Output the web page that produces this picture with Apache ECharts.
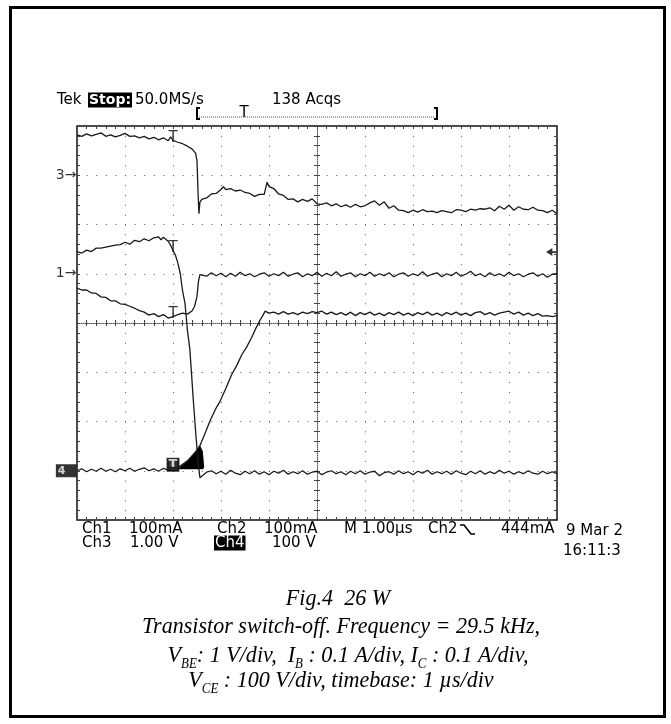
<!DOCTYPE html>
<html>
<head>
<meta charset="utf-8">
<script src="https://cdn.jsdelivr.net/npm/echarts@6.0.0/dist/echarts.min.js"></script>
<style>
html, body { margin: 0; padding: 0; background: #fff; }
#main { width: 671px; height: 724px; }
</style>
</head>
<body>
<div id="main"></div>
<script>
// scope traces, [time in µs (1 µs/div), position in divisions from screen centre]
var ch3 = [[0,3.82],[0.1,3.79],[0.2,3.84],[0.3,3.80],[0.4,3.83],[0.5,3.86],[0.6,3.79],[0.7,3.82],[0.8,3.78],[0.9,3.81],
  [1.0,3.85],[1.1,3.79],[1.2,3.80],[1.3,3.76],[1.4,3.79],[1.5,3.74],[1.6,3.77],[1.7,3.72],[1.8,3.76],[1.9,3.70],
  [1.95,3.78],[2.0,3.71],[2.1,3.67],[2.2,3.64],[2.3,3.59],[2.4,3.53],[2.47,3.45],[2.5,3.30],[2.52,2.70],[2.54,2.22],
  [2.56,2.45],[2.6,2.51],[2.7,2.54],[2.8,2.62],[2.9,2.63],[3.0,2.71],[3.05,2.77],[3.1,2.71],[3.2,2.73],[3.3,2.68],
  [3.4,2.70],[3.5,2.65],[3.6,2.63],[3.7,2.57],[3.8,2.61],[3.9,2.61],[3.96,2.86],[4.0,2.77],[4.1,2.73],[4.2,2.62],
  [4.3,2.59],[4.4,2.51],[4.5,2.52],[4.6,2.46],[4.7,2.51],[4.8,2.47],[4.9,2.52],[5.0,2.42],[5.1,2.41],[5.2,2.44],
  [5.3,2.38],[5.4,2.42],[5.5,2.36],[5.6,2.40],[5.7,2.35],[5.8,2.41],[5.9,2.36],[6.0,2.38],[6.1,2.44],[6.2,2.48],
  [6.3,2.39],[6.4,2.46],[6.5,2.33],[6.6,2.38],[6.7,2.29],[6.8,2.28],[6.9,2.24],[7.0,2.29],[7.1,2.25],[7.2,2.30],
  [7.3,2.26],[7.4,2.27],[7.5,2.24],[7.6,2.28],[7.7,2.26],[7.8,2.24],[7.9,2.30],[8.0,2.29],[8.1,2.26],[8.2,2.31],
  [8.3,2.29],[8.4,2.32],[8.5,2.31],[8.6,2.34],[8.7,2.28],[8.8,2.37],[8.9,2.31],[9.0,2.39],[9.1,2.29],[9.2,2.36],
  [9.3,2.31],[9.4,2.30],[9.5,2.35],[9.6,2.29],[9.7,2.28],[9.8,2.24],[9.9,2.29],[10,2.22]];

var ch2 = [[0,1.45],[0.1,1.42],[0.2,1.48],[0.3,1.45],[0.4,1.52],[0.5,1.52],[0.6,1.54],[0.7,1.56],[0.8,1.58],[0.9,1.59],
  [1.0,1.64],[1.1,1.60],[1.2,1.68],[1.3,1.65],[1.4,1.71],[1.5,1.67],[1.6,1.73],[1.7,1.75],[1.75,1.69],[1.8,1.74],
  [1.9,1.66],[1.95,1.58],[2.0,1.47],[2.05,1.38],[2.1,1.22],[2.15,1.01],[2.2,0.65],[2.25,0.40],[2.3,-0.15],[2.35,-0.52],
  [2.42,-1.52],[2.48,-2.32],[2.53,-2.88],[2.56,-3.14],[2.6,-3.10],[2.65,-3.07],[2.7,-3.03],[2.8,-3.00],[2.9,-3.06],[3.0,-3.01],
  [3.1,-3.07],[3.2,-2.99],[3.3,-3.05],[3.4,-3.08],[3.5,-3.01],[3.6,-3.06],[3.7,-3.00],[3.8,-3.07],[3.9,-3.02],[4.0,-3.08],
  [4.1,-3.01],[4.2,-3.05],[4.3,-2.99],[4.4,-3.07],[4.5,-3.02],[4.6,-3.06],[4.7,-3.00],[4.8,-3.07],[4.9,-3.03],[5.0,-3.01],
  [5.1,-3.08],[5.2,-3.03],[5.3,-3.00],[5.4,-3.06],[5.5,-3.02],[5.6,-3.08],[5.7,-3.01],[5.8,-3.06],[5.9,-3.00],[6.0,-3.07],
  [6.1,-3.03],[6.2,-3.01],[6.3,-3.10],[6.4,-3.04],[6.5,-3.02],[6.6,-3.07],[6.7,-3.00],[6.8,-3.06],[6.9,-3.02],[7.0,-3.08],
  [7.1,-3.01],[7.2,-3.05],[7.3,-2.99],[7.4,-3.07],[7.5,-3.02],[7.6,-3.06],[7.7,-3.01],[7.8,-3.07],[7.9,-3.00],[8.0,-3.05],
  [8.1,-3.08],[8.2,-3.01],[8.3,-3.06],[8.4,-3.00],[8.5,-3.07],[8.6,-3.02],[8.7,-3.06],[8.8,-2.99],[8.9,-3.05],[9.0,-3.01],
  [9.1,-3.07],[9.2,-3.02],[9.3,-3.06],[9.4,-3.00],[9.5,-3.05],[9.6,-3.07],[9.7,-3.01],[9.8,-3.06],[9.9,-3.02],[10,-3.06]];

var ch1 = [[0,0.71],[0.1,0.67],[0.2,0.67],[0.3,0.61],[0.4,0.60],[0.5,0.53],[0.6,0.52],[0.7,0.45],[0.8,0.45],[0.9,0.39],
  [1.0,0.38],[1.1,0.34],[1.2,0.30],[1.3,0.25],[1.4,0.22],[1.5,0.16],[1.6,0.19],[1.7,0.13],[1.8,0.17],[1.9,0.10],
  [2.0,0.13],[2.1,0.17],[2.2,0.20],[2.3,0.18],[2.4,0.25],[2.45,0.34],[2.5,0.54],[2.53,0.84],[2.56,0.98],[2.6,0.99],
  [2.7,0.95],[2.8,1.02],[2.9,0.96],[3.0,1.01],[3.1,0.94],[3.2,1.01],[3.3,0.95],[3.4,1.03],[3.5,0.96],[3.6,1.00],
  [3.7,0.94],[3.8,0.99],[3.9,1.02],[4.0,0.95],[4.1,1.00],[4.2,0.96],[4.3,1.03],[4.4,0.95],[4.5,0.99],[4.6,1.02],
  [4.7,0.94],[4.8,1.00],[4.9,0.96],[5.0,1.03],[5.1,0.95],[5.2,1.01],[5.3,0.96],[5.4,1.04],[5.5,0.95],[5.6,0.99],
  [5.7,1.02],[5.8,0.94],[5.9,1.00],[6.0,0.96],[6.1,1.03],[6.2,0.95],[6.3,1.00],[6.4,0.96],[6.5,1.02],[6.6,0.94],
  [6.7,0.99],[6.8,1.02],[6.9,0.95],[7.0,1.00],[7.1,0.96],[7.2,1.04],[7.3,0.95],[7.4,0.99],[7.5,1.02],[7.6,0.94],
  [7.7,1.00],[7.8,0.96],[7.9,1.03],[8.0,0.95],[8.1,0.99],[8.2,1.05],[8.3,0.96],[8.4,1.00],[8.5,0.94],[8.6,1.02],
  [8.7,0.96],[8.8,1.00],[8.9,0.95],[9.0,1.03],[9.1,0.96],[9.2,1.00],[9.3,0.94],[9.4,0.99],[9.5,1.02],[9.6,0.95],
  [9.7,1.00],[9.8,0.93],[9.9,0.99],[10,1.00]];

var ch4 = [[0,-3.00],[0.1,-2.96],[0.2,-3.02],[0.3,-2.97],[0.4,-3.01],[0.5,-2.95],[0.6,-3.01],[0.7,-2.97],[0.8,-3.02],[0.9,-2.96],
  [1.0,-3.00],[1.1,-2.95],[1.2,-3.01],[1.3,-2.97],[1.4,-2.94],[1.5,-3.00],[1.6,-2.96],[1.7,-3.01],[1.8,-2.95],[1.9,-2.99],
  [1.96,-2.93],[2.0,-2.95],[2.1,-2.94],[2.3,-2.80],[2.45,-2.64],[2.56,-2.49],[2.66,-2.26],[2.77,-1.99],[2.88,-1.76],[2.98,-1.59],
  [3.1,-1.33],[3.22,-1.05],[3.33,-0.86],[3.43,-0.65],[3.54,-0.48],[3.64,-0.29],[3.72,-0.12],[3.81,0.05],[3.87,0.15],[3.92,0.24],
  [4.0,0.20],[4.1,0.22],[4.2,0.18],[4.3,0.23],[4.4,0.18],[4.5,0.21],[4.6,0.17],[4.7,0.22],[4.8,0.19],[4.9,0.23],
  [5.0,0.21],[5.1,0.24],[5.2,0.18],[5.3,0.22],[5.4,0.17],[5.5,0.21],[5.6,0.16],[5.7,0.22],[5.8,0.15],[5.9,0.21],
  [6.0,0.17],[6.1,0.22],[6.2,0.16],[6.3,0.20],[6.4,0.15],[6.5,0.21],[6.6,0.17],[6.7,0.22],[6.8,0.16],[6.9,0.20],
  [7.0,0.15],[7.1,0.21],[7.2,0.17],[7.3,0.22],[7.4,0.16],[7.5,0.20],[7.6,0.15],[7.7,0.21],[7.8,0.17],[7.9,0.22],
  [8.0,0.16],[8.1,0.20],[8.2,0.15],[8.3,0.21],[8.4,0.23],[8.5,0.17],[8.6,0.21],[8.7,0.16],[8.8,0.20],[8.9,0.22],
  [9.0,0.24],[9.1,0.18],[9.2,0.22],[9.3,0.16],[9.4,0.20],[9.5,0.15],[9.6,0.19],[9.7,0.14],[9.8,0.15],[9.9,0.13],[10,0.15]];

// filled blob on Ch4 just after the trigger
var ch4Burst = [[2.11,-2.95],[2.29,-2.81],[2.43,-2.66],[2.53,-2.53],[2.56,-2.48],[2.62,-2.60],[2.65,-2.92],[2.63,-2.97],[2.15,-2.97]];

// ground markers and trigger points
var groundNames = ['3', '1'];
var groundDivs = [3, 1];
var ch4Ground = -3;
var trigMarks = [[2.0, 3.71], [2.0, 1.47], [2.0, 0.13]];
var ch4TrigMark = [2.0, -2.88];
var trigLevel_mA = 444, ch2Scale_mA = 100, ch2Ground = -3;

var readoutTop = ['Ch1', '100mA', 'Ch2', '100mA', 'M 1.00\u00b5s', 'Ch2', '444mA'];
var readoutBottom = ['Ch3', '1.00 V', 'Ch4', '100 V'];

var chart = echarts.init(document.getElementById('main'));

var MONO = 'DejaVu Sans';
var SERIF = 'Liberation Serif';

function edgeAxis(pos, extra) {
    var a = {
        type: 'value', position: pos,
        axisLine: { show: false, onZero: false },
        axisTick: { show: true, inside: true, length: 3, lineStyle: { color: '#444' } },
        minorTick: { show: true, splitNumber: 5, length: 3, lineStyle: { color: '#444' } },
        axisLabel: { show: false },
        splitLine: { show: false }
    };
    for (var k in extra) a[k] = extra[k];
    return a;
}

var xAxes = [
    edgeAxis('bottom', { min: 0, max: 10, interval: 1,
        splitLine: { show: true, lineStyle: { color: '#555', width: 1, type: [1, 8.85] } } }),
    edgeAxis('top', { min: 0, max: 10, interval: 1 }),
    edgeAxis('bottom', { min: 0, max: 10, interval: 1,
        axisLine: { show: true, onZero: true, onZeroAxisIndex: 0, lineStyle: { color: '#555', type: [1, 1] } } }),
    edgeAxis('top', { min: 0, max: 10, interval: 1,
        axisLine: { show: false, onZero: true, onZeroAxisIndex: 0 } })
];
var yAxes = [
    edgeAxis('left', { min: -4, max: 4, interval: 1,
        splitLine: { show: true, lineStyle: { color: '#555', width: 1, type: [1, 8.6] } } }),
    edgeAxis('right', { min: -4, max: 4, interval: 1 }),
    edgeAxis('left', { min: -4, max: 4, interval: 1, offset: -240,
        axisLine: { show: true, onZero: false, lineStyle: { color: '#555', type: [1, 1] } } }),
    edgeAxis('right', { min: -4, max: 4, interval: 1, offset: -240 })
];

function trace(data) {
    return {
        type: 'line', data: data, showSymbol: false, silent: true,
        lineStyle: { color: '#1a1a1a', width: 1.3 }
    };
}

var series = [trace(ch3), trace(ch2), trace(ch1), trace(ch4)];

series.push({
    type: 'custom', data: [[2.4, -2.8]], silent: true,
    renderItem: function (params, api) {
        var pts = ch4Burst.map(function (p) { return api.coord(p); });
        return { type: 'polygon', shape: { points: pts }, style: { fill: '#000' } };
    }
});

// channel ground markers on the left edge
series.push({
    type: 'scatter', clip: false, silent: true, symbolSize: 1,
    itemStyle: { color: 'rgba(0,0,0,0)' },
    data: groundDivs.map(function (v, i) { return { value: [0, v], name: groundNames[i] }; }),
    label: { show: true, position: 'left', distance: 0, formatter: '{b}\u2192',
        fontFamily: MONO, fontSize: 14, color: '#000' }
});
series.push({
    type: 'scatter', clip: false, silent: true, symbolSize: 1,
    itemStyle: { color: 'rgba(0,0,0,0)' },
    data: [[0, ch4Ground]],
    label: { show: true, position: 'left', distance: 0, formatter: '4',
        fontFamily: MONO, fontSize: 11, fontWeight: 'bold', color: '#fff',
        backgroundColor: '#000', padding: [1, 11, 0, 2], lineHeight: 12 }
});

// trigger point markers
series.push({
    type: 'scatter', clip: false, silent: true, symbolSize: 1,
    itemStyle: { color: 'rgba(0,0,0,0)' },
    data: trigMarks,
    label: { show: true, position: 'top', distance: -4, formatter: 'T',
        fontFamily: MONO, fontSize: 15, color: '#000', lineHeight: 12 }
});
series.push({
    type: 'scatter', clip: false, silent: true, symbolSize: 1,
    itemStyle: { color: 'rgba(0,0,0,0)' },
    data: [ch4TrigMark],
    label: { show: true, position: 'inside', formatter: 'T',
        fontFamily: MONO, fontSize: 13, fontWeight: 'bold', color: '#fff',
        backgroundColor: '#000', padding: [0, 1, 0, 1], lineHeight: 12,
        borderColor: '#000', borderWidth: 1 }
});

// trigger level arrow on the right edge
series.push({
    type: 'scatter', clip: false, silent: true,
    data: [[10, trigLevel_mA / ch2Scale_mA + ch2Ground]],
    symbol: 'path://M0,5 L7,0 L7,10 Z M7,4 L11,4 L11,6 L7,6 Z',
    symbolSize: [10, 8], symbolOffset: [-6, 0],
    itemStyle: { color: '#000' }
});

var txt = function (text, x, y, extra) {
    var s = { text: text, x: x, y: y, fill: '#000', font: '15px "' + MONO + '"',
        textVerticalAlign: 'middle', verticalAlign: 'middle' };
    for (var k in extra) s[k] = extra[k];
    return { type: 'text', style: s, silent: true };
};

var topX = [82, 129, 217, 264, 344, 428, 501];
var botX = [82, 130, 214, 272];

var graphics = [
    { type: 'rect', shape: { x: 10.5, y: 7.5, width: 654, height: 709 },
      style: { fill: 'none', stroke: '#000', lineWidth: 3 }, silent: true },
    txt('Tek', 57, 100),
    txt('Stop:', 88, 100, { fill: '#fff', backgroundColor: '#000', padding: [1, 1, 0, 1], font: 'bold 14px "' + MONO + '"' }),
    txt('50.0MS/s', 135, 100),
    txt('138 Acqs', 272, 100),
    { type: 'polyline', shape: { points: [[200, 108], [197, 108], [197, 119], [200, 119]] },
      style: { stroke: '#000', lineWidth: 2, fill: 'none' }, silent: true },
    { type: 'polyline', shape: { points: [[434, 108], [437, 108], [437, 119], [434, 119]] },
      style: { stroke: '#000', lineWidth: 2, fill: 'none' }, silent: true },
    { type: 'line', shape: { x1: 199, y1: 117, x2: 435, y2: 117 },
      style: { stroke: '#555', lineWidth: 1, lineDash: [1, 1] }, silent: true },
    txt('T', 244, 113, { textAlign: 'center', align: 'center' }),
    { type: 'polyline', shape: { points: [[460, 525], [464, 525], [471, 534], [475, 534]] },
      style: { stroke: '#000', lineWidth: 1.6, fill: 'none' }, silent: true },
    txt('9 Mar 2', 566, 531),
    txt('16:11:3', 563, 551)
];

readoutTop.forEach(function (s, i) {
    graphics.push(txt(s, topX[i], 529));
});
readoutBottom.forEach(function (s, i) {
    if (s === 'Ch4') {
        graphics.push(txt(s, botX[i], 543, { fill: '#fff', backgroundColor: '#000', padding: [0, 1, 0, 1] }));
    } else {
        graphics.push(txt(s, botX[i], 543));
    }
});

// caption
var capM = { fontFamily: SERIF, fontStyle: 'italic', fontSize: 24, lineHeight: 30, fill: '#000' };
var capS = { fontFamily: SERIF, fontStyle: 'italic', fontSize: 14, lineHeight: 18, verticalAlign: 'bottom', fill: '#000' };
function cap(text, x, y) {
    return {
        type: 'text', x: x, y: y, scaleX: 0.92, silent: true,
        style: { text: text, rich: { m: capM, s: capS }, textAlign: 'center', align: 'center',
            textVerticalAlign: 'middle', verticalAlign: 'middle',
            font: 'italic 24px "' + SERIF + '"', fill: '#000' }
    };
}
graphics.push(cap('{m|Fig.4  26 W}', 338, 599));
graphics.push(cap('{m|Transistor switch-off. Frequency = 29.5 kHz,}', 341, 627));
graphics.push(cap('{m|V}{s|BE}{m|: 1 V/div,  I}{s|B}{m| : 0.1 A/div, I}{s|C}{m| : 0.1 A/div,}', 348, 656));
graphics.push(cap('{m|V}{s|CE}{m| : 100 V/div, timebase: 1 \u00b5s/div}', 341, 681));

chart.setOption({
    animation: false,
    backgroundColor: '#fff',
    grid: { left: 77, top: 126, width: 480, height: 394, show: true,
        borderColor: '#111', borderWidth: 1.5, backgroundColor: 'rgba(0,0,0,0)',
        outerBoundsMode: 'none', containLabel: false },
    xAxis: xAxes,
    yAxis: yAxes,
    series: series,
    graphic: graphics
});
</script>
</body>
</html>
